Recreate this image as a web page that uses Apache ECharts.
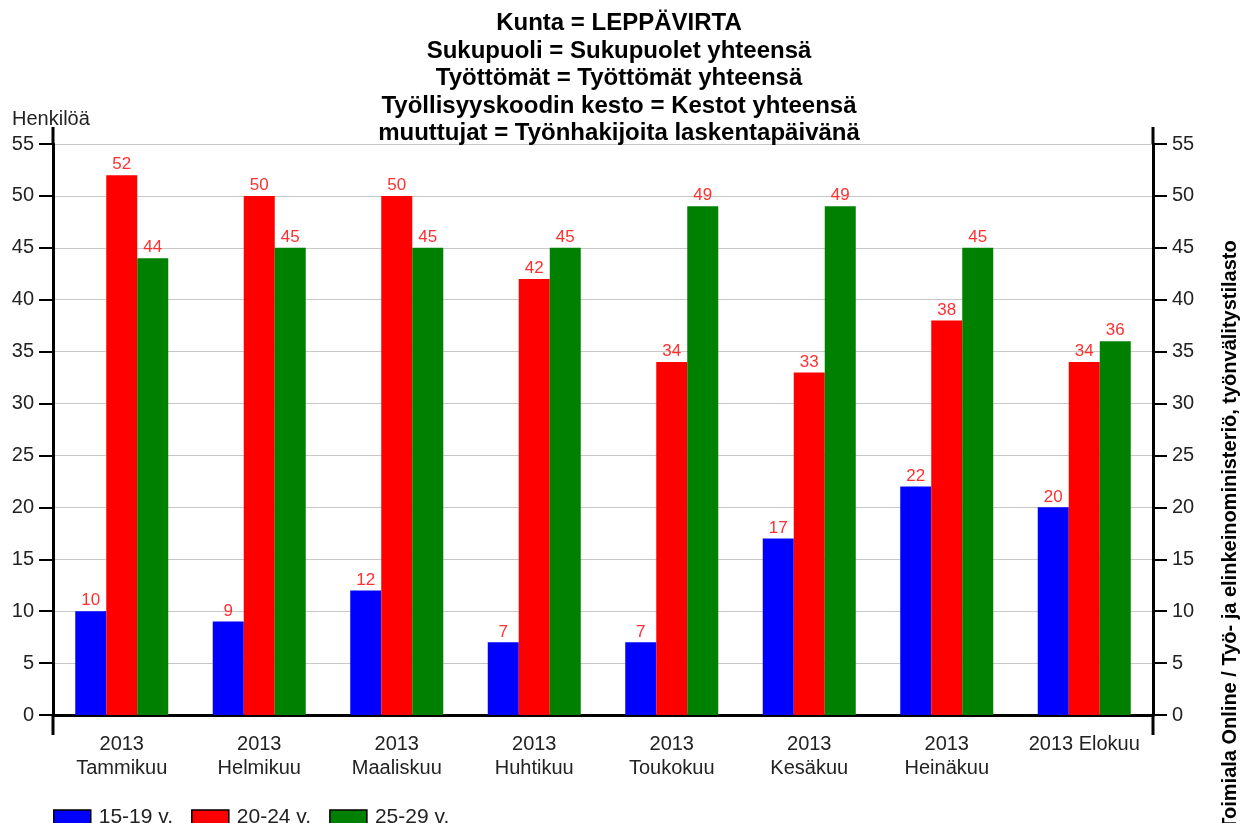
<!DOCTYPE html>
<html>
<head>
<meta charset="utf-8">
<script src="https://cdn.jsdelivr.net/npm/echarts@6/dist/echarts.min.js"></script>
<style>
  html, body { margin: 0; padding: 0; background: #fff; }
  #main { width: 1242px; height: 823px; }
</style>
</head>
<body>
<div id="main"></div>
<script>
// kuukaudet ja ikäryhmät
var kuukaudet = ['2013\nTammikuu', '2013\nHelmikuu', '2013\nMaaliskuu', '2013\nHuhtikuu',
                 '2013\nToukokuu', '2013\nKesäkuu', '2013\nHeinäkuu', '2013 Elokuu'];
var ika15_19 = [10, 9, 12, 7, 7, 17, 22, 20];
var ika20_24 = [52, 50, 50, 42, 34, 33, 38, 34];
var ika25_29 = [44, 45, 45, 45, 49, 49, 45, 36];
var sarjat = ['15-19 v.', '20-24 v.', '25-29 v.'];
var otsikko = ['Kunta = LEPPÄVIRTA', 'Sukupuoli = Sukupuolet yhteensä', 'Työttömät = Työttömät yhteensä',
               'Työllisyyskoodin kesto = Kestot yhteensä', 'muuttujat = Työnhakijoita laskentapäivänä'];
var lahde = 'Toimiala Online / Työ- ja elinkeinoministeriö, työnvälitystilasto';

var fontti = '"Liberation Sans", Arial, sans-serif';
var gLeft = 53, gRight = 1153, gTop = 144, gBottom = 715;

var myChart = echarts.init(document.getElementById('main'));

function palkki(nimi, data, vari) {
    return {
        name: nimi,
        type: 'bar',
        data: data,
        barWidth: 31,
        barGap: '0%',
        itemStyle: { color: vari },
        label: {
            show: true,
            position: 'top',
            distance: 2,
            color: '#ff3030',
            fontSize: 17,
            fontFamily: fontti
        }
    };
}

var yAkseli = {
    type: 'value',
    min: 0,
    max: 55,
    interval: 5,
    axisLine: { show: true, lineStyle: { color: '#000', width: 3 } },
    axisTick: { show: true, length: 14, lineStyle: { color: '#000', width: 2 } },
    axisLabel: { color: '#222', fontSize: 20, fontFamily: fontti, margin: 19 }
};

var option = {
    animation: false,
    backgroundColor: '#fff',
    title: [
        {
            text: otsikko.join('\n'),
            left: 614,
            top: 5,
            textAlign: 'center',
            textStyle: { fontSize: 24, fontWeight: 'bold', color: '#000', lineHeight: 27.5, fontFamily: fontti }
        },
        {
            text: 'Henkilöä',
            left: 7,
            top: 104,
            textStyle: { fontSize: 20, fontWeight: 'normal', color: '#222', fontFamily: fontti }
        }
    ],
    legend: {
        data: sarjat,
        left: 48,
        top: 802,
        icon: 'rect',
        itemWidth: 37,
        itemHeight: 15,
        itemGap: 18,
        itemStyle: { borderColor: '#000', borderWidth: 1.5 },
        textStyle: { fontSize: 21, color: '#222', fontFamily: fontti, padding: [0, 0, 0, 3] }
    },
    grid: {
        left: gLeft,
        right: 1242 - gRight,
        top: gTop,
        bottom: 823 - gBottom
    },
    xAxis: {
        type: 'category',
        data: kuukaudet,
        axisLine: { lineStyle: { color: '#000', width: 3 } },
        axisTick: { alignWithLabel: true, interval: 0, length: 12, lineStyle: { color: '#000', width: 2.5 } },
        axisLabel: { interval: 0, color: '#222', fontSize: 20, fontFamily: fontti, lineHeight: 24, margin: 17 }
    },
    yAxis: [
        Object.assign({}, yAkseli, {
            position: 'left',
            splitLine: { show: true, lineStyle: { color: '#c8c8c8', width: 1 } }
        }),
        Object.assign({}, yAkseli, {
            position: 'right',
            splitLine: { show: false }
        })
    ],
    series: [
        palkki(sarjat[0], ika15_19, '#0000ff'),
        palkki(sarjat[1], ika20_24, '#ff0000'),
        palkki(sarjat[2], ika25_29, '#008000')
    ],
    graphic: [
        // akselien jatkeet ylös ja alas
        { type: 'line', shape: { x1: gLeft, y1: 127, x2: gLeft, y2: gTop }, style: { stroke: '#000', lineWidth: 3 } },
        { type: 'line', shape: { x1: gLeft, y1: gBottom, x2: gLeft, y2: 735 }, style: { stroke: '#000', lineWidth: 3 } },
        { type: 'line', shape: { x1: gRight, y1: 127, x2: gRight, y2: gTop }, style: { stroke: '#000', lineWidth: 3 } },
        { type: 'line', shape: { x1: gRight, y1: gBottom, x2: gRight, y2: 735 }, style: { stroke: '#000', lineWidth: 3 } },
        {
            type: 'text',
            x: 1230,
            y: 535,
            rotation: Math.PI / 2,
            style: {
                text: lahde,
                fill: '#000',
                font: 'bold 20px ' + fontti,
                align: 'center',
                verticalAlign: 'middle'
            }
        }
    ]
};

myChart.setOption(option);
</script>
</body>
</html>
